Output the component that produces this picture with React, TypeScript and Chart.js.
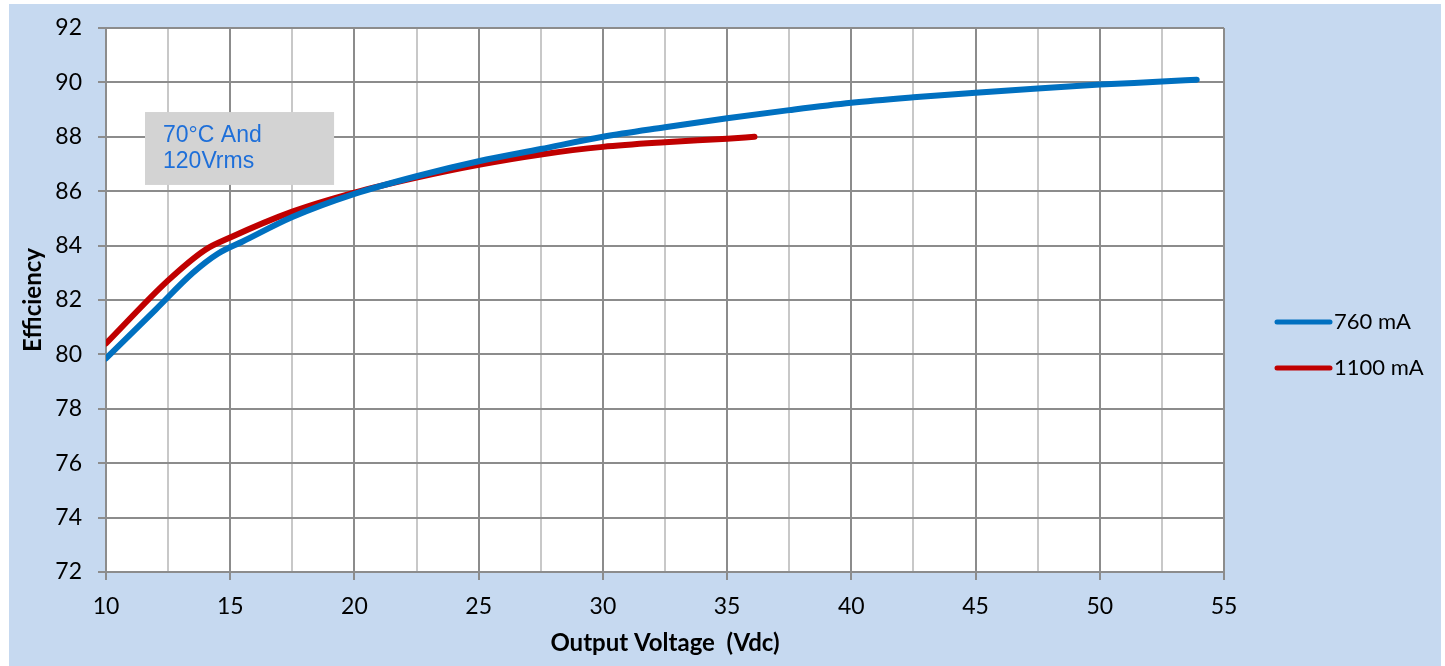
import React, { useEffect, useRef } from "react";
import { Chart, registerables } from "chart.js";

Chart.register(...registerables);

// ---- Data ----
const voltage760 = [10, 12, 13.5, 14.5, 15.5, 17.5, 20, 22.5, 25, 27.5, 30, 32.5, 35, 37.5, 40, 42.5, 45, 47.5, 50, 52.5, 53.9];
const efficiency760 = [79.85, 81.65, 83.0, 83.7, 84.15, 85.05, 85.9, 86.55, 87.1, 87.55, 88.0, 88.35, 88.68, 88.98, 89.25, 89.45, 89.62, 89.78, 89.92, 90.03, 90.1];
const voltage1100 = [10, 12.5, 14, 15, 17.5, 20, 22.5, 25, 27.5, 30, 32.5, 35, 36.1];
const efficiency1100 = [80.4, 82.72, 83.85, 84.3, 85.25, 85.95, 86.5, 86.97, 87.35, 87.63, 87.8, 87.93, 88.0];
const seriesLabels = ["760 mA", "1100 mA"];
const seriesColors = ["#0070C0", "#C00000"];
const annotationLines = ["70°C And", "120Vrms"];
const xTitle = "Output Voltage  (Vdc)";
const yTitle = "Efficiency";

const toPoints = (xs: number[], ys: number[]) => xs.map((x, i) => ({ x, y: ys[i] }));

const plotBgPlugin = {
  id: "plotBg",
  beforeDraw(chart: any) {
    const { ctx, chartArea } = chart;
    ctx.save();
    ctx.fillStyle = "#FFFFFF";
    ctx.fillRect(chartArea.left, chartArea.top, chartArea.right - chartArea.left, chartArea.bottom - chartArea.top);
    ctx.restore();
  },
};

const annotationPlugin = {
  id: "noteBox",
  beforeDatasetsDraw(chart: any) {
    const { ctx, scales } = chart;
    const x0 = scales.x.getPixelForValue(11.57);
    const x1 = scales.x.getPixelForValue(19.18);
    const y0 = scales.y.getPixelForValue(88.91);
    const y1 = scales.y.getPixelForValue(86.23);
    ctx.save();
    ctx.fillStyle = "#D3D3D3";
    ctx.fillRect(x0, y0, x1 - x0, y1 - y0);
    ctx.fillStyle = "#1E6FD9";
    ctx.font = "23px 'Liberation Sans', Arial, sans-serif";
    ctx.textBaseline = "alphabetic";
    ctx.textAlign = "left";
    annotationLines.forEach((t, i) => {
      ctx.fillText(t, x0 + 18, y0 + 30 + i * 26);
    });
    ctx.restore();
  },
};

const legendPlugin = {
  id: "sideLegend",
  afterDraw(chart: any) {
    const { ctx, chartArea } = chart;
    ctx.save();
    const lx0 = chartArea.right + 53;
    const lx1 = chartArea.right + 106;
    const midY = (chartArea.top + chartArea.bottom) / 2;
    chart.data.datasets.forEach((ds: any, i: number) => {
      const y = midY + 22 + i * 46;
      ctx.strokeStyle = ds.borderColor;
      ctx.lineWidth = 5;
      ctx.lineCap = "round";
      ctx.beginPath();
      ctx.moveTo(lx0, y);
      ctx.lineTo(lx1, y);
      ctx.stroke();
      ctx.fillStyle = "#000000";
      ctx.font = "22px Lato, 'Open Sans', sans-serif";
      ctx.textBaseline = "middle";
      ctx.textAlign = "left";
      ctx.fillText(ds.label, lx1 + 4, y);
    });
    ctx.restore();
  },
};

export default function App() {
  const canvasRef = useRef<HTMLCanvasElement | null>(null);

  useEffect(() => {
    if (!canvasRef.current) return;
    const chart = new Chart(canvasRef.current, {
      type: "scatter",
      data: {
        datasets: [
          {
            label: seriesLabels[0],
            data: toPoints(voltage760, efficiency760),
            borderColor: seriesColors[0],
            backgroundColor: seriesColors[0],
            showLine: true,
            borderWidth: 6,
            pointRadius: 0,
            cubicInterpolationMode: "monotone",
            borderCapStyle: "round",
          },
          {
            label: seriesLabels[1],
            data: toPoints(voltage1100, efficiency1100),
            borderColor: seriesColors[1],
            backgroundColor: seriesColors[1],
            showLine: true,
            borderWidth: 6,
            pointRadius: 0,
            cubicInterpolationMode: "monotone",
            borderCapStyle: "round",
          },
        ],
      },
      options: {
        animation: false,
        responsive: false,
        maintainAspectRatio: false,
        layout: { padding: { left: 0, right: 217, top: 24, bottom: 0 } },
        plugins: {
          legend: { display: false },
          tooltip: { enabled: false },
        },
        scales: {
          x: {
            type: "linear",
            min: 10,
            max: 55,
            afterFit: (scale: any) => {
              scale.height = 94;
              scale.paddingLeft = 0;
              scale.paddingRight = 0;
            },
            border: { display: true, color: "#8C8C8C", width: 2 },
            grid: {
              color: (c: any) => (c.tick && c.tick.value % 5 === 0 ? "#8C8C8C" : "#C8C8C8"),
              lineWidth: 2,
              tickLength: 8,
              tickColor: (c: any) => (c.tick && c.tick.value % 5 === 0 ? "#8C8C8C" : "rgba(0,0,0,0)"),
            },
            ticks: {
              stepSize: 2.5,
              autoSkip: false,
              maxRotation: 0,
              padding: 13,
              color: "#000000",
              font: { family: "Lato, 'Open Sans', sans-serif", size: 23 },
              callback: (v: any) => (Number(v) % 5 === 0 ? String(v) : ""),
            },
            title: {
              display: true,
              text: xTitle,
              color: "#000000",
              font: { family: "Lato, 'Open Sans', sans-serif", size: 24, weight: "bold" },
              padding: { top: 0, bottom: 8 },
            },
          },
          y: {
            type: "linear",
            min: 72,
            max: 92,
            afterFit: (scale: any) => {
              scale.width = 97;
              scale.paddingTop = 0;
              scale.paddingBottom = 0;
            },
            border: { display: true, color: "#8C8C8C", width: 2 },
            grid: {
              color: "#8C8C8C",
              lineWidth: 2,
              tickLength: 8,
              tickColor: "#8C8C8C",
            },
            ticks: {
              stepSize: 2,
              padding: 16,
              color: "#000000",
              font: { family: "Lato, 'Open Sans', sans-serif", size: 23 },
            },
            title: {
              display: true,
              text: yTitle,
              color: "#000000",
              font: { family: "Lato, 'Open Sans', sans-serif", size: 24, weight: "bold" },
              padding: { top: 10, bottom: 0 },
            },
          },
        },
      },
      plugins: [plotBgPlugin, annotationPlugin, legendPlugin],
    } as any);
    return () => chart.destroy();
  }, []);

  return (
    <div
      style={{
        position: "absolute",
        left: 9,
        top: 4,
        width: 1432,
        height: 662,
        background: "#C6D9F0",
      }}
    >
      <canvas ref={canvasRef} width={1432} height={662} style={{ width: 1432, height: 662, display: "block" }} />
    </div>
  );
}
